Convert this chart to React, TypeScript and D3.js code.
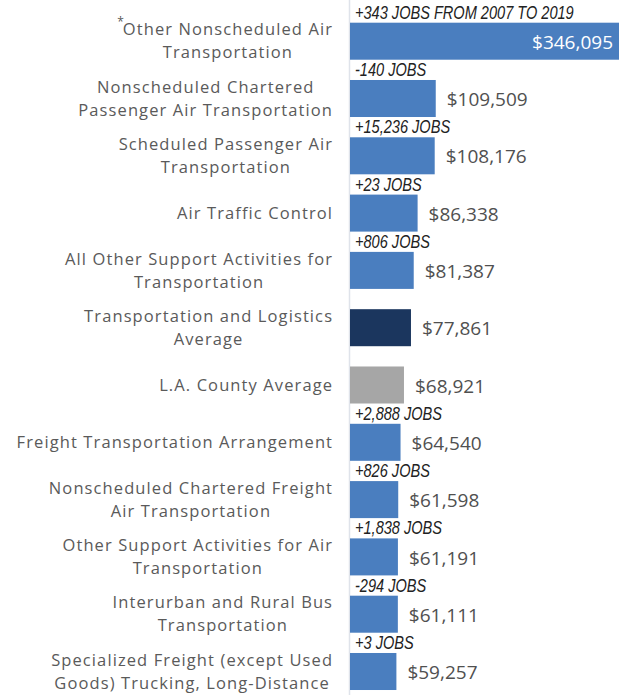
import React, { useEffect, useRef } from "react";
import * as d3 from "d3";

const categories: string[] = [
  "*Other Nonscheduled Air Transportation",
  "Nonscheduled Chartered Passenger Air Transportation",
  "Scheduled Passenger Air Transportation",
  "Air Traffic Control",
  "All Other Support Activities for Transportation",
  "Transportation and Logistics Average",
  "L.A. County Average",
  "Freight Transportation Arrangement",
  "Nonscheduled Chartered Freight Air Transportation",
  "Other Support Activities for Air Transportation",
  "Interurban and Rural Bus Transportation",
  "Specialized Freight (except Used Goods) Trucking, Long-Distance",
];

const labelLines: string[][] = [
  ["Other Nonscheduled Air", "Transportation"],
  ["Nonscheduled Chartered", "Passenger Air Transportation"],
  ["Scheduled Passenger Air", "Transportation"],
  ["Air Traffic Control"],
  ["All Other Support Activities for", "Transportation"],
  ["Transportation and Logistics", "Average"],
  ["L.A. County Average"],
  ["Freight Transportation Arrangement"],
  ["Nonscheduled Chartered Freight", "Air Transportation"],
  ["Other Support Activities for Air", "Transportation"],
  ["Interurban and Rural Bus", "Transportation"],
  ["Specialized Freight (except Used", "Goods) Trucking, Long-Distance"],
];

const wages: number[] = [346095, 109509, 108176, 86338, 81387, 77861, 68921, 64540, 61598, 61191, 61111, 59257];

const jobLabels: string[] = [
  "+343 JOBS FROM 2007 TO 2019",
  "-140 JOBS",
  "+15,236 JOBS",
  "+23 JOBS",
  "+806 JOBS",
  "",
  "",
  "+2,888 JOBS",
  "+826 JOBS",
  "+1,838 JOBS",
  "-294 JOBS",
  "+3 JOBS",
];

const kinds: string[] = ["industry", "industry", "industry", "industry", "industry", "sector", "county", "industry", "industry", "industry", "industry", "industry"];

const W = 619;
const H = 695;

export default function App() {
  const ref = useRef<SVGSVGElement | null>(null);

  useEffect(() => {
    const svg = d3.select(ref.current);
    svg.selectAll("*").remove();

    const x0 = 350;
    const x = d3.scaleLinear().domain([0, 346095]).range([x0, 621]);
    const y = d3
      .scaleBand<string>()
      .domain(categories)
      .range([12.55, 700.15])
      .paddingInner(0.354)
      .paddingOuter(0.177);

    const color = (k: string) => (k === "sector" ? "#1b365e" : k === "county" ? "#a6a6a6" : "#4a7ebf");

    // axis line
    svg
      .append("line")
      .attr("x1", x0 - 0.5)
      .attr("x2", x0 - 0.5)
      .attr("y1", 0)
      .attr("y2", H)
      .attr("stroke", "#dfe3ea")
      .attr("stroke-width", 1.5);

    const data = categories.map((c, i) => ({ c, i, v: wages[i], jobs: jobLabels[i], kind: kinds[i], lines: labelLines[i] }));

    svg
      .append("g")
      .selectAll("rect")
      .data(data)
      .join("rect")
      .attr("x", x(0))
      .attr("y", (d) => y(d.c)!)
      .attr("width", (d) => Math.min(x(d.v), W) - x(0))
      .attr("height", y.bandwidth())
      .attr("fill", (d) => color(d.kind));

    const fmt = d3.format("$,");

    // value labels
    svg
      .append("g")
      .selectAll("text")
      .data(data)
      .join("text")
      .attr("x", (d) => (d.i === 0 ? W - 6 : x(d.v) + 11))
      .attr("y", (d) => y(d.c)! + y.bandwidth() / 2 + 1)
      .attr("dy", "0.35em")
      .attr("text-anchor", (d) => (d.i === 0 ? "end" : "start"))
      .attr("fill", (d) => (d.i === 0 ? "#ffffff" : "#505050"))
      .style("font-family", "'Open Sans', sans-serif")
      .style("font-size", "19px")
      .text((d) => fmt(d.v));

    // job labels (condensed italic)
    const jx = x(0) + 5;
    const sx = 0.81;
    svg
      .append("g")
      .selectAll("text")
      .data(data.filter((d) => d.jobs))
      .join("text")
      .attr("transform", (d) => `translate(${jx},${y(d.c)! - 4}) scale(${sx},1)`)
      .attr("fill", "#222222")
      .style("font-family", "'Liberation Sans', sans-serif")
      .style("font-style", "italic")
      .style("font-size", "18px")
      .text((d) => d.jobs);

    // category labels
    const lineH = 23;
    const rightEdge = 332;
    const labG = svg.append("g");
    data.forEach((d) => {
      const g = labG.append("g");
      const cy = y(d.c)! + y.bandwidth() / 2;
      const n = d.lines.length;
      const texts = d.lines.map((line, j) => {
        const t = g
          .append("text")
          .attr("y", cy + (j - (n - 1) / 2) * lineH)
          .attr("dy", "0.35em")
          .attr("text-anchor", "middle")
          .attr("fill", "#5a5a5a")
          .style("font-family", "'Open Sans', sans-serif")
          .style("font-size", "16.5px")
          .style("letter-spacing", "1.1px");
        t.text(line);
        return t;
      });
      const widths = texts.map((t) => (t.node() as SVGTextElement).getComputedTextLength() - 1.1);
      const maxW = Math.max(...widths);
      const cx = rightEdge - maxW / 2;
      texts.forEach((t) => t.attr("x", cx + 0.55));
      if (d.i === 0) {
        const bb = widths[0];
        g.append("text")
          .attr("x", cx - bb / 2 + 1)
          .attr("y", cy - lineH / 2 - 4)
          .attr("text-anchor", "end")
          .attr("fill", "#5a5a5a")
          .style("font-family", "'Open Sans', sans-serif")
          .style("font-size", "12px")
          .text("*");
      }
    });
  }, []);

  return (
    <div style={{ position: "absolute", left: 0, top: 0, width: W, height: H, background: "#fff" }}>
      <svg ref={ref} width={W} height={H} />
    </div>
  );
}
